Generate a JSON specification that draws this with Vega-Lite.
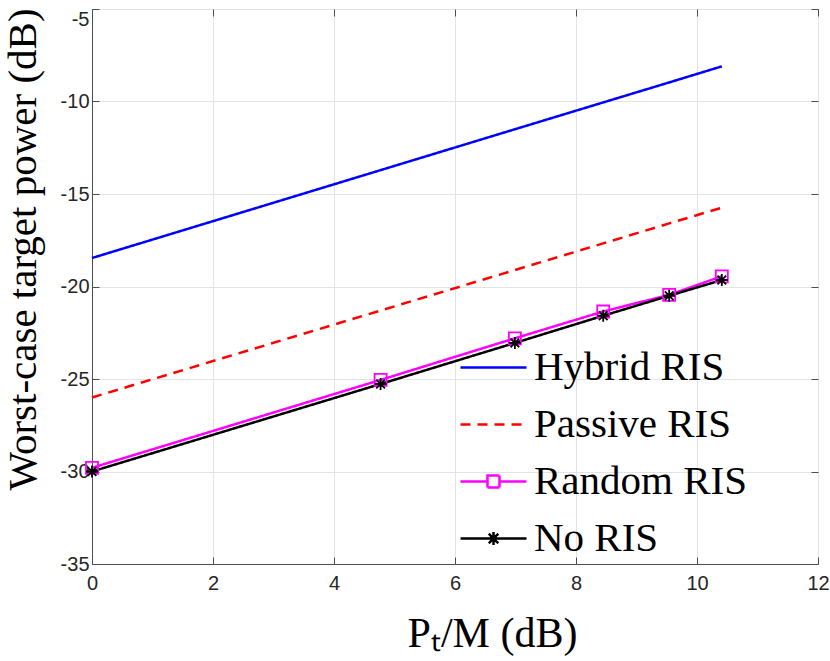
{
  "$schema": "https://vega.github.io/schema/vega-lite/v6.json",
  "width": 726,
  "height": 555,
  "autosize": {"type": "none"},
  "padding": {"left": 92, "top": 9, "right": 12, "bottom": 97},
  "background": "white",
  "config": {
    "view": {"stroke": "#4d4d4d", "strokeWidth": 1},
    "axis": {
      "labelFont": "Liberation Sans",
      "labelFontSize": 20,
      "labelColor": "#262626",
      "domainColor": "#4d4d4d",
      "tickColor": "#4d4d4d",
      "gridColor": "#e3e3e3",
      "gridWidth": 1,
      "tickSize": -7,
      "titleFont": "Liberation Serif",
      "titleFontWeight": "normal",
      "titleColor": "#000000",
      "titleFontSize": 42
    }
  },
  "data": {
    "values": [
      {"series": "Hybrid RIS", "x": 0, "y": -18.46},
      {"series": "Hybrid RIS", "x": 4.77, "y": -13.71},
      {"series": "Hybrid RIS", "x": 6.99, "y": -11.5},
      {"series": "Hybrid RIS", "x": 8.45, "y": -10.05},
      {"series": "Hybrid RIS", "x": 9.54, "y": -8.97},
      {"series": "Hybrid RIS", "x": 10.41, "y": -8.1},
      {"series": "Passive RIS", "x": 0, "y": -26.0},
      {"series": "Passive RIS", "x": 4.77, "y": -21.3},
      {"series": "Passive RIS", "x": 6.99, "y": -19.11},
      {"series": "Passive RIS", "x": 8.45, "y": -17.67},
      {"series": "Passive RIS", "x": 9.54, "y": -16.59},
      {"series": "Passive RIS", "x": 10.41, "y": -15.74},
      {"series": "Random RIS", "x": 0, "y": -29.8},
      {"series": "Random RIS", "x": 4.77, "y": -25.05},
      {"series": "Random RIS", "x": 6.99, "y": -22.8},
      {"series": "Random RIS", "x": 8.45, "y": -21.35},
      {"series": "Random RIS", "x": 9.54, "y": -20.45},
      {"series": "Random RIS", "x": 10.41, "y": -19.45},
      {"series": "No RIS", "x": 0, "y": -30.0},
      {"series": "No RIS", "x": 4.77, "y": -25.27},
      {"series": "No RIS", "x": 6.99, "y": -23.05},
      {"series": "No RIS", "x": 8.45, "y": -21.58},
      {"series": "No RIS", "x": 9.54, "y": -20.5},
      {"series": "No RIS", "x": 10.41, "y": -19.65}
    ]
  },
  "layer": [
    {
      "mark": {"type": "line", "strokeWidth": 2.5},
      "encoding": {
        "x": {
          "field": "x", "type": "quantitative",
          "scale": {"domain": [0, 12], "nice": false},
          "axis": {"orient": "bottom", "values": [0, 2, 4, 6, 8, 10, 12], "grid": true, "labelFlush": false, "title": "Pₜ/M (dB)", "titlePadding": 20, "titleX": 400, "titleAlign": "center", "labelPadding": 16}
        },
        "y": {
          "field": "y", "type": "quantitative",
          "scale": {"domain": [-35, -5], "nice": false},
          "axis": {
            "orient": "left", "values": [-35, -30, -25, -20, -15, -10, -5], "grid": true, "labelFlush": false,
            "labelExpr": "'' + datum.value",
            "labelBaseline": {"condition": {"test": "datum.value === -5", "value": "top"}, "value": "middle"},
            "title": "Worst-case target power (dB)", "titleFontSize": 41, "titlePadding": 16, "titleY": 240, "labelPadding": 10
          }
        },
        "color": {
          "field": "series", "type": "nominal",
          "scale": {"domain": ["Hybrid RIS", "Passive RIS", "Random RIS", "No RIS"], "range": ["#0000ff", "#ff0000", "#ff00ff", "#000000"]},
          "legend": {
            "title": null,
            "orient": "none",
            "legendX": 375,
            "legendY": 332,
            "padding": 0,
            "symbolSize": 2500,
            "symbolStrokeWidth": 2.5,
            "labelFont": "Liberation Serif",
            "labelFontSize": 41,
            "labelColor": "#000000",
            "labelOffset": 14,
            "rowPadding": 10,
            "labelLimit": 400,
            "encode": {
              "symbols": {
                "update": {
                  "shape": {"signal": "datum.value === 'Random RIS' ? 'M-1.32,0H-0.24M0.24,0H1.32M-0.24,-0.24H0.24V0.24H-0.24Z' : datum.value === 'No RIS' ? 'M-1.32,0H1.32M0,-0.26V0.26M-0.19,-0.19L0.19,0.19M-0.19,0.19L0.19,-0.19' : 'M-1.32,0H1.32'"},
                  "strokeDash": {"signal": "datum.value === 'Passive RIS' ? [10, 7] : [1, 0]"},
                  "fill": {"value": "transparent"}
                }
              }
            }
          }
        },
        "strokeDash": {
          "field": "series", "type": "nominal",
          "scale": {"domain": ["Hybrid RIS", "Passive RIS", "Random RIS", "No RIS"], "range": [[1, 0], [10, 7], [1, 0], [1, 0]]},
          "legend": null
        }
      }
    },
    {
      "transform": [{"filter": "datum.series === 'Random RIS' || datum.series === 'No RIS'"}],
      "mark": {"type": "point", "filled": false, "strokeWidth": 1.8, "opacity": 1, "size": 144},
      "encoding": {
        "x": {
          "field": "x", "type": "quantitative",
          "scale": {"domain": [0, 12], "nice": false},
          "axis": {"orient": "top", "values": [0, 2, 4, 6, 8, 10, 12], "grid": false, "labels": false, "domain": false, "title": null}
        },
        "y": {
          "field": "y", "type": "quantitative",
          "scale": {"domain": [-35, -5], "nice": false},
          "axis": {"orient": "right", "values": [-35, -30, -25, -20, -15, -10, -5], "grid": false, "labels": false, "domain": false, "title": null}
        },
        "stroke": {
          "field": "series", "type": "nominal",
          "scale": {"domain": ["Random RIS", "No RIS"], "range": ["#ff00ff", "#000000"]},
          "legend": null
        },
        "shape": {
          "field": "series", "type": "nominal",
          "scale": {"domain": ["Random RIS", "No RIS"], "range": ["square", "M-1,0H1M0,-1V1M-0.72,-0.72L0.72,0.72M-0.72,0.72L0.72,-0.72"]},
          "legend": null
        }
      }
    }
  ],
  "resolve": {"axis": {"x": "independent", "y": "independent"}}
}
